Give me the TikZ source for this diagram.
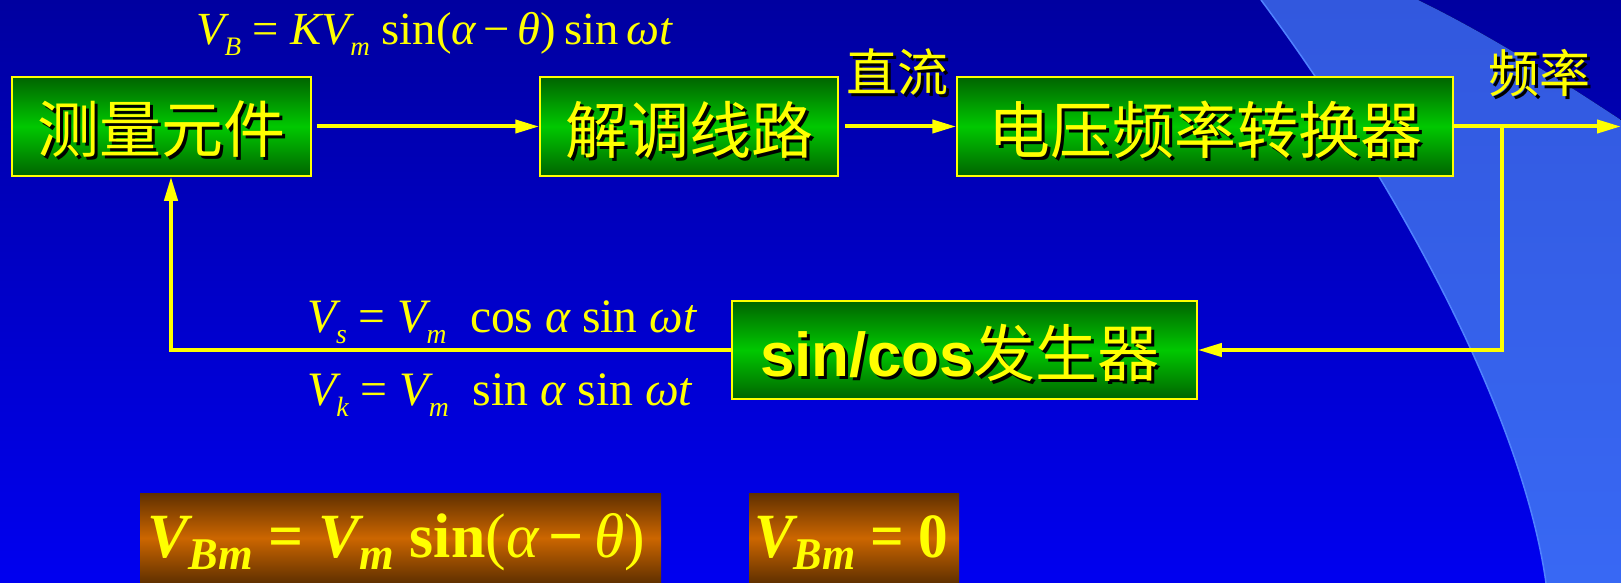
\documentclass[tikz,border=0pt]{standalone}
\usepackage{graphicx}
\usepackage{fontspec}
\usetikzlibrary{arrows.meta}
\newfontfamily\cjk{Noto Sans CJK SC}
\newfontfamily\tms{Liberation Serif}
\newfontfamily\arl{Liberation Sans}
\definecolor{bgtop}{RGB}{0,0,160}
\definecolor{bgbot}{RGB}{0,0,240}
\definecolor{swtop}{RGB}{50,88,222}
\definecolor{swbot}{RGB}{56,104,244}
\definecolor{swedge}{RGB}{80,130,255}
\definecolor{gdark}{RGB}{0,100,0}
\definecolor{glight}{RGB}{0,200,0}
\definecolor{odark}{RGB}{96,48,0}
\definecolor{olight}{RGB}{204,102,0}
\definecolor{yel}{RGB}{255,255,0}
\newcommand{\shd}[1]{\rlap{\kern3pt\raisebox{-3pt}{\color{black}#1}}#1}
\newcommand{\sbs}[1]{\raisebox{-0.23em}{\scalebox{0.58}{#1}}}
\newcommand{\sbb}[1]{\raisebox{-0.2em}{\scalebox{0.72}{#1}}}
\begin{document}
\begin{tikzpicture}[x=1pt,y=-1pt,
  gbox/.style={draw=yel, line width=1.5pt, top color=gdark, bottom color=gdark, middle color=glight, inner sep=0pt},
  obox/.style={draw=none, top color=odark, bottom color=odark, middle color=olight, inner sep=0pt},
  btxt/.style={inner sep=0pt, text=yel, font={\cjk\fontsize{62}{70}\selectfont}},
  ltxt/.style={inner sep=0pt, text=yel, font={\cjk\fontsize{51}{60}\selectfont}},
  fml/.style={inner sep=0pt, text=yel, font=\tms, anchor=base west},
  conn/.style={draw=yel, line width=4pt, -{Triangle[length=24pt,width=13pt]}}]
\useasboundingbox (0,0) rectangle (1621,583);
% background
\fill[top color=bgtop, bottom color=bgbot] (0,0) rectangle (1621,583);
% swoosh
\fill[top color=swtop, bottom color=swbot]
  (1261,0) .. controls (1380,160) and (1520,400) .. (1546,583)
  -- (1621,583) -- (1621,120)
  .. controls (1560,80) and (1490,35) .. (1418,0) -- cycle;
\draw[swedge, line width=1.5pt]
  (1261,0) .. controls (1380,160) and (1520,400) .. (1546,583);
% boxes
\node[gbox, minimum width=299pt, minimum height=99pt] (b1) at (161.5,126.5) {};
\node[gbox, minimum width=298pt, minimum height=99pt] (b2) at (689,126.5) {};
\node[gbox, minimum width=496pt, minimum height=99pt] (b3) at (1205,126.5) {};
\node[gbox, minimum width=465pt, minimum height=98pt] (b4) at (964.5,350) {};
\node[btxt] (t1) at (161.5,131) {\shd{测量元件}};
\node[btxt] (t2) at (689,131) {\shd{解调线路}};
\node[btxt] (t3) at (1205,131) {\shd{电压频率转换器}};
\node[btxt] (t4) at (960,354) {\shd{{\arl\bfseries sin/cos}发生器}};
% labels
\node[ltxt] (l1) at (897,74) {\shd{直流}};
\node[ltxt] (l2) at (1539,75) {\shd{频率}};
% connectors
\coordinate (split) at (1502,125);
\coordinate (out) at (1621,125);
\coordinate (fbl) at (171,349);
\draw[conn, shorten <=5pt] (b1) -- (b2);
\draw[conn, shorten <=6pt] (b2) -- (b3);
\draw[conn] (b3.east) -- (b3.east -| out);
\draw[conn] (b3.east -| split) |- (b4.east);
\draw[conn] (b4.west) -| (b1.south -| fbl);
% formulas
\node[fml] (fB) at (196,45) {\resizebox{476pt}{\height}{\fontsize{46}{46}\selectfont\itshape V\sbs{B}\ \upshape=\ \itshape KV\sbs{m}\ \upshape sin(\itshape α\upshape\,−\,\itshape θ\upshape)\,sin\,\itshape ωt}};
\node[fml] (fs) at (307,332) {\resizebox{389pt}{\height}{\fontsize{48}{48}\selectfont\itshape V\sbs{s}\ \upshape=\ \itshape V\sbs{m}\ \ \upshape cos \itshape α \upshape sin \itshape ωt}};
\node[fml] (fk) at (307,405) {\resizebox{385pt}{\height}{\fontsize{48}{48}\selectfont\itshape V\sbs{k}\ \upshape=\ \itshape V\sbs{m}\ \ \upshape sin \itshape α \upshape sin \itshape ωt}};
% orange boxes
\node[obox, minimum width=521pt, minimum height=90pt] (o1) at (400.5,538) {};
\node[obox, minimum width=210pt, minimum height=90pt] (o2) at (854,538) {};
\node[fml] (f1) at (147,557) {\resizebox{498pt}{\height}{\fontsize{63}{63}\selectfont\bfseries\itshape V\sbb{Bm}\ \upshape=\ \itshape V\sbb{m}\ \upshape sin\mdseries(\itshape α\bfseries\upshape\,−\,\mdseries\itshape θ\upshape)}};
\node[fml] (f2) at (754,557) {\resizebox{194pt}{\height}{\fontsize{63}{63}\selectfont\bfseries\itshape V\sbb{Bm}\ \upshape=\ 0}};
\end{tikzpicture}
\end{document}
